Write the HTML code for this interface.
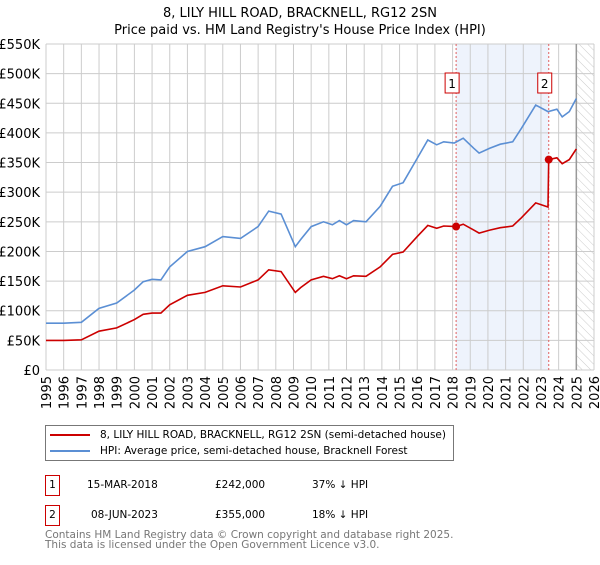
<!DOCTYPE html>
<html><head><meta charset="utf-8"><style>
body{margin:0;background:#fff;font-family:"Liberation Sans","DejaVu Sans",sans-serif;}
svg text{font-family:"DejaVu Sans","Liberation Sans",sans-serif;}
.t{position:absolute;white-space:nowrap;font-size:10.5px;font-family:"DejaVu Sans",sans-serif;}
</style></head><body>
<svg id="c" width="600" height="560" xmlns="http://www.w3.org/2000/svg">
<defs><pattern id="hatch" width="6" height="6" patternUnits="userSpaceOnUse" patternTransform="rotate(-45)"><line x1="0" y1="0" x2="0" y2="6" stroke="#ccc" stroke-width="1"/></pattern></defs>
<text x="300" y="17" text-anchor="middle" font-size="13">8, LILY HILL ROAD, BRACKNELL, RG12 2SN</text>
<text x="300" y="34" text-anchor="middle" font-size="13">Price paid vs. HM Land Registry's House Price Index (HPI)</text>
</svg>
<script>
const yTicks=[0,50,100,150,200,250,300,350,400,450,500,550];
const yTickLabels=["£0","£50K","£100K","£150K","£200K","£250K","£300K","£350K","£400K","£450K","£500K","£550K"];
const xYears=[1995,1996,1997,1998,1999,2000,2001,2002,2003,2004,2005,2006,2007,2008,2009,2010,2011,2012,2013,2014,2015,2016,2017,2018,2019,2020,2021,2022,2023,2024,2025,2026];
const hpiYears=[1995,1996,1997,1998,1999,2000,2000.5,2001,2001.5,2002,2003,2004,2005,2006,2007,2007.6,2008.3,2009.1,2009.4,2010,2010.7,2011.2,2011.6,2012,2012.4,2013.1,2013.9,2014.6,2015.2,2016,2016.6,2017.1,2017.5,2018.1,2018.6,2019.2,2019.5,2020.1,2020.7,2021.4,2021.9,2022.7,2023.4,2023.9,2024.2,2024.6,2025.0];
const hpiValues=[79,79,80.5,104,113,135,149,153,152,174,200,208,225,222,242,268,263,208,220,242,250,245,252,245,252,250,276,310,316,357,388,380,385,383,391,374,366,374,381,385,408,447,436,440,427,436,458];
const priceYears=[1995,1996,1997,1998,1999,2000,2000.5,2001,2001.5,2002,2003,2004,2005,2006,2007,2007.6,2008.3,2009.1,2009.4,2010,2010.7,2011.2,2011.6,2012,2012.4,2013.1,2013.9,2014.6,2015.2,2016,2016.6,2017.1,2017.5,2018.2,2018.6,2019.2,2019.5,2020.1,2020.7,2021.4,2021.9,2022.7,2023.4,2023.44,2023.9,2024.2,2024.6,2025.0];
const priceValues=[50,50,51,65.5,71,85,94,96,96,110,126,131,142,140,152,169,166,131,139,152,158,154,159,154,159,158,174,195,199,225,244,239,243,242,246,236,231,236,240,243,257,282,275,355,358,348,355,373];
const saleYears=[2018.2,2023.44];
const saleValues=[242,355];
const saleLabels=["1","2"];
const dataEnd=2025.0;

const X0=46,X1=594,Y0=370,Y1=44;
const xs=y=>X0+(y-1995)*(X1-X0)/31;
const ys=v=>Y0-v*(Y0-Y1)/550;
const svg=document.getElementById('c');
const NS="http://www.w3.org/2000/svg";
function mk(t,a){const e=document.createElementNS(NS,t);for(const k in a)e.setAttribute(k,a[k]);svg.appendChild(e);return e;}

let e=mk('rect',{x:xs(saleYears[0]),y:Y1,width:xs(saleYears[1])-xs(saleYears[0]),height:Y0-Y1,fill:'#eef3fc'});


e=mk('rect',{x:xs(dataEnd),y:Y1,width:X1-xs(dataEnd),height:Y0-Y1,fill:'url(#hatch)'});


yTicks.forEach((t,i)=>{
 e=mk('line',{x1:X0,x2:X1,y1:ys(t),y2:ys(t),stroke:'#ccc','stroke-width':1});
 
 
 e=mk('text',{x:40,y:ys(t)+5,'text-anchor':'end','font-size':13});
 e.textContent=yTickLabels[i];
 
 
});
xYears.forEach(yr=>{
 e=mk('line',{x1:xs(yr),x2:xs(yr),y1:Y1,y2:Y0,stroke:'#ccc','stroke-width':1});
 
 
 e=mk('text',{x:0,y:0,'text-anchor':'end','font-size':13,transform:`translate(${xs(yr)+5},376) rotate(-90)`});
 e.textContent=yr;
 
 
});
e=mk('line',{x1:xs(dataEnd),x2:xs(dataEnd),y1:Y1,y2:Y0,stroke:'#999','stroke-width':1.5});


saleYears.forEach((s,i)=>{
 e=mk('line',{x1:xs(s),x2:xs(s),y1:Y1,y2:Y0,stroke:'#e06060','stroke-width':1,'stroke-dasharray':'2,2'});
 
 
});
function path(xa,va,col,name){
 const d=xa.map((y,i)=>(i?'L':'M')+xs(y).toFixed(1)+','+ys(va[i]).toFixed(1)).join('');
 e=mk('path',{d,fill:'none',stroke:col,'stroke-width':1.6});
 
 
}
path(hpiYears,hpiValues,'#5b8fd4','hpi-line');
path(priceYears,priceValues,'#cc0000','price-paid-line');
saleYears.forEach((s,i)=>{
 e=mk('circle',{cx:xs(s),cy:ys(saleValues[i]),r:4,fill:'#cc0000'});
 
 
 e=mk('rect',{x:xs(s)-11,y:73,width:14,height:20,fill:'#fff',stroke:'#cc0000'});
 
 
 e=mk('text',{x:xs(s)-4,y:88,'text-anchor':'middle','font-size':12});
 e.textContent=saleLabels[i];
 
 
});
</script>
<div style="position:absolute;left:45px;top:425px;width:409px;height:36px;border:1px solid #777;box-sizing:border-box;">
 <div class="t" style="left:4px;top:3px;"><span style="display:inline-block;width:40px;height:2px;background:#cc0000;vertical-align:middle;margin-right:10px;"></span>8, LILY HILL ROAD, BRACKNELL, RG12 2SN (semi-detached house)</div>
 <div class="t" style="left:4px;top:19px;"><span style="display:inline-block;width:40px;height:2px;background:#5b8fd4;vertical-align:middle;margin-right:10px;"></span>HPI: Average price, semi-detached house, Bracknell Forest</div>
</div>
<div>
 <div class="t" style="left:45px;top:475px;width:15px;height:21px;border:1px solid #cc0000;box-sizing:border-box;text-align:center;line-height:19px;">1</div>
 <div class="t" style="left:87px;top:479px;">15-MAR-2018</div>
 <div class="t" style="left:215px;top:479px;">£242,000</div>
 <div class="t" style="left:312px;top:479px;">37% ↓ HPI</div>
</div>
<div>
 <div class="t" style="left:45px;top:505px;width:15px;height:21px;border:1px solid #cc0000;box-sizing:border-box;text-align:center;line-height:19px;">2</div>
 <div class="t" style="left:91px;top:509px;">08-JUN-2023</div>
 <div class="t" style="left:215px;top:509px;">£355,000</div>
 <div class="t" style="left:312px;top:509px;">18% ↓ HPI</div>
</div>
<div class="t" style="left:45px;top:530px;line-height:10px;color:#777;">Contains HM Land Registry data © Crown copyright and database right 2025.<br>This data is licensed under the Open Government Licence v3.0.</div>
</body></html>
